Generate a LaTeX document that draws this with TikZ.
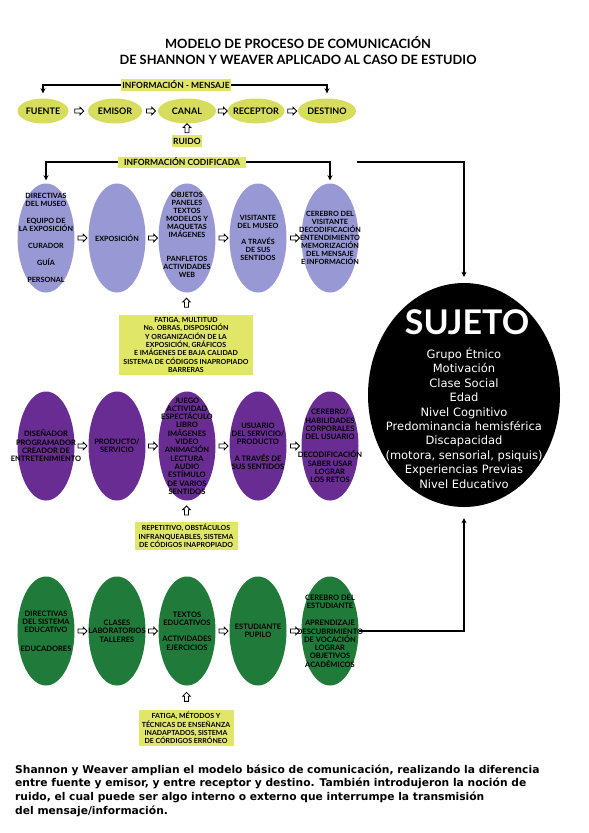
\documentclass[tikz,border=0pt]{standalone}
\usepackage{fontspec}
\setmainfont{Lato}
\newfontfamily\lucida{DejaVu Sans}
\usetikzlibrary{shapes.geometric, shapes.arrows, positioning, arrows.meta}
\definecolor{SWLime}{RGB}{214,221,92}
\definecolor{SWBox}{RGB}{224,230,104}
\definecolor{SWLav}{RGB}{152,152,212}
\definecolor{SWPurple}{RGB}{104,44,146}
\definecolor{SWGreen}{RGB}{32,122,58}

\begin{document}
\begin{tikzpicture}[x=1pt, y=-1pt,
          ov/.style={ellipse, inner sep=0pt, minimum width=57pt, minimum height=109pt},
          ovtop/.style={ellipse, fill=SWLime, inner sep=0pt, minimum height=25pt},
          tt/.style={font=\fontsize{9}{9}\selectfont\bfseries, inner sep=0pt},
          tx/.style={font=\fontsize{7.2}{8}\selectfont\bfseries, align=center, inner sep=0pt},
          txb/.style={font=\fontsize{7.5}{8.3}\selectfont\bfseries, align=center, inner sep=0pt},
          tag/.style={rectangle, fill=SWBox, inner sep=1.5pt,
                      font=\fontsize{8.5}{9}\selectfont\bfseries},
          note/.style={rectangle, fill=SWBox, align=center, inner sep=2pt,
                       font=\fontsize{7}{8.3}\selectfont\bfseries},
          harr/.style={single arrow, draw, fill=white, line width=0.8pt,
                       minimum height=9pt, inner xsep=0pt, inner ysep=1.6pt,
                       single arrow head extend=1.8pt},
          con/.style={draw, line width=1.2pt,
                      -{Stealth[length=5pt, width=5pt, inset=1.5pt]}}
        ]
        \useasboundingbox (0,0) rectangle (589,833);

        \node[font=\fontsize{12.8}{16}\selectfont\bfseries, align=center]
              (title) at (298,51)
              {MODELO DE PROCESO DE COMUNICACIÓN\\
               DE SHANNON Y WEAVER APLICADO AL CASO DE ESTUDIO};

        % modelo basico
        \node[ovtop, minimum width=51pt, label={[tt]center:FUENTE}]   (fuente)   at (43,111)  {};
        \node[ovtop, minimum width=54pt, label={[tt]center:EMISOR}]   (emisor)   at (115,111) {};
        \node[ovtop, minimum width=58pt, label={[tt]center:CANAL}]    (canal)    at (187,111) {};
        \node[ovtop, minimum width=57pt, label={[tt]center:RECEPTOR}] (receptor) at (256,111) {};
        \node[ovtop, minimum width=58pt, label={[tt]center:DESTINO}]  (destino)  at (327,111) {};

        \node[tag, minimum height=12pt]                      (im)    at (176,85)  {INFORMACIÓN - MENSAJE};
        \node[tag, minimum width=30pt, minimum height=12pt]  (ruido) at (187,141) {RUIDO};
        \node[tag, minimum width=128pt, minimum height=11pt] (ic)    at (182,162) {INFORMACIÓN CODIFICADA};

        \draw[con, shorten >=5pt] (im.west) -| (fuente.north);
        \draw[con, shorten >=5pt] (im.east) -| (destino.north);
        \path (ruido.north) -- node[harr, rotate=90] {} (canal.south);

        % museo
        \node[ov, fill=SWLav, label={[tx]center:{DIRECTIVAS\\DEL MUSEO\\[9pt]EQUIPO DE\\LA EXPOSICIÓN\\[9pt]CURADOR\\[9pt]GUÍA\\[9pt]PERSONAL}}]
              (l1) at (46,238) {};
        \node[ov, fill=SWLav, label={[tx]center:{EXPOSICIÓN}}]
              (l2) at (117,238) {};
        \node[ov, fill=SWLav, label={[tx, yshift=3pt]center:{OBJETOS\\PANELES\\TEXTOS\\MODELOS Y\\MAQUETAS\\IMÁGENES\\[16pt]PANFLETOS\\ACTIVIDADES\\WEB}}]
              (l3) at (187,238) {};
        \node[ov, fill=SWLav, label={[tx]center:{VISITANTE\\DEL MUSEO\\[8pt]A TRAVÉS\\DE SUS\\SENTIDOS}}]
              (l4) at (258,238) {};
        \node[ov, fill=SWLav, label={[tx]center:{CEREBRO DEL\\VISITANTE\\DECODIFICACIÓN\\ENTENDIMIENTO\\MEMORIZACIÓN\\DEL MENSAJE\\E INFORMACIÓN}}]
              (l5) at (330,238) {};

        \draw[con, shorten >=3pt] (ic.west) -| (l1.north);
        \draw[con, shorten >=3pt] (ic.east) -| (l5.north);

        \node[note, minimum width=134pt, minimum height=60pt] (b1) at (186,345)
              {FATIGA, MULTITUD\\No. OBRAS, DISPOSICIÓN\\Y ORGANIZACIÓN DE LA\\EXPOSICIÓN, GRÁFICOS\\E IMÁGENES DE BAJA CALIDAD\\SISTEMA DE CÓDIGOS INAPROPIADO\\BARRERAS};
        \path (b1.north) -- node[harr, rotate=90] {} (l3.south);

        % entretenimiento
        \node[ov, fill=SWPurple, label={[txb]center:{DISEÑADOR\\PROGRAMADOR\\CREADOR DE\\ENTRETENIMIENTO}}]
              (p1) at (46,446) {};
        \node[ov, fill=SWPurple, label={[txb]center:{PRODUCTO/\\SERVICIO}}]
              (p2) at (117,446) {};
        \node[ov, fill=SWPurple, label={[txb]center:{JUEGO\\ACTIVIDAD\\ESPECTÁCULO\\LIBRO\\IMÁGENES\\VIDEO\\ANIMACIÓN\\LECTURA\\AUDIO\\ESTÍMULO\\DE VARIOS\\SENTIDOS}}]
              (p3) at (187,446) {};
        \node[ov, fill=SWPurple, label={[txb]center:{USUARIO\\DEL SERVICIO/\\PRODUCTO\\[8pt]A TRAVÉS DE\\SUS SENTIDOS}}]
              (p4) at (258,446) {};
        \node[ov, fill=SWPurple, label={[txb]center:{CEREBRO/\\HABILIDADES\\CORPORALES\\DEL USUARIO\\[10pt]DECODIFICACIÓN\\SABER USAR\\LOGRAR\\LOS RETOS}}]
              (p5) at (330,446) {};

        \node[note, minimum width=103pt, minimum height=26pt] (b2) at (186,536)
              {REPETITIVO, OBSTÁCULOS\\INFRANQUEABLES, SISTEMA\\DE CÓDIGOS INAPROPIADO};
        \path (b2.north) -- node[harr, rotate=90] {} (p3.south);

        % educacion
        \node[ov, fill=SWGreen, label={[txb]center:{DIRECTIVAS\\DEL SISTEMA\\EDUCATIVO\\[10pt]EDUCADORES}}]
              (g1) at (46,631) {};
        \node[ov, fill=SWGreen, label={[txb]center:{CLASES\\LABORATORIOS\\TALLERES}}]
              (g2) at (117,631) {};
        \node[ov, fill=SWGreen, label={[txb]center:{TEXTOS\\EDUCATIVOS\\[8pt]ACTIVIDADES\\EJERCICIOS}}]
              (g3) at (187,631) {};
        \node[ov, fill=SWGreen, label={[txb]center:{ESTUDIANTE\\PUPILO}}]
              (g4) at (258,631) {};
        \node[ov, fill=SWGreen, label={[txb]center:{CEREBRO DEL\\ESTUDIANTE\\[9pt]APRENDIZAJE\\DESCUBRIMIENTO\\DE VOCACIÓN\\LOGRAR\\OBJETIVOS\\ACADÉMICOS}}]
              (g5) at (330,631) {};

        \node[note, minimum width=95pt, minimum height=31pt] (b3) at (186,728)
              {FATIGA, MÉTODOS Y\\TÉCNICAS DE ENSEÑANZA\\INADAPTADOS, SISTEMA\\DE CÓRDIGOS ERRÓNEO};
        \path (b3.north) -- node[harr, rotate=90] {} (g3.south);

        \foreach \a/\b in {fuente/emisor, emisor/canal, canal/receptor, receptor/destino,
                           l1/l2, l2/l3, l3/l4, l4/l5,
                           p1/p2, p2/p3, p3/p4, p4/p5,
                           g1/g2, g2/g3, g3/g4, g4/g5}{
          \path (\a) -- node[harr] {} (\b);
        }

        % sujeto
        \node[ellipse, fill=black, inner sep=0pt, minimum width=192pt, minimum height=224pt]
              (suj) at (464,395) {};
        \node[text=white, font=\fontsize{34}{34}\selectfont\bfseries] (sujt) at (467,322) {SUJETO};
        \node[text=white, align=center, font=\lucida\fontsize{11.5}{14.4}\selectfont]
              (sujl) at (464,418)
              {Grupo Étnico\\Motivación\\Clase Social\\Edad\\Nivel Cognitivo\\
               Predominancia hemisférica\\Discapacidad\\(motora, sensorial, psiquis)\\
               Experiencias Previas\\Nivel Educativo};

        \coordinate (icx) at (357,162);
        \draw[con, shorten >=6pt] (icx) -| (suj.north);
        \draw[con, shorten >=11pt] (g5.east) -| (suj.south);

        \node[anchor=base west, align=left, inner sep=0pt,
              font=\lucida\bfseries\fontsize{10.7}{13.6}\selectfont] (txt) at (15,814)
              {Shannon y Weaver amplian el modelo básico de comunicación, realizando la diferencia\\
               entre fuente y emisor, y entre receptor y destino. También introdujeron la noción de\\
               ruido, el cual puede ser algo interno o externo que interrumpe la transmisión\\
               del mensaje/información.};
      \end{tikzpicture}
\end{document}
